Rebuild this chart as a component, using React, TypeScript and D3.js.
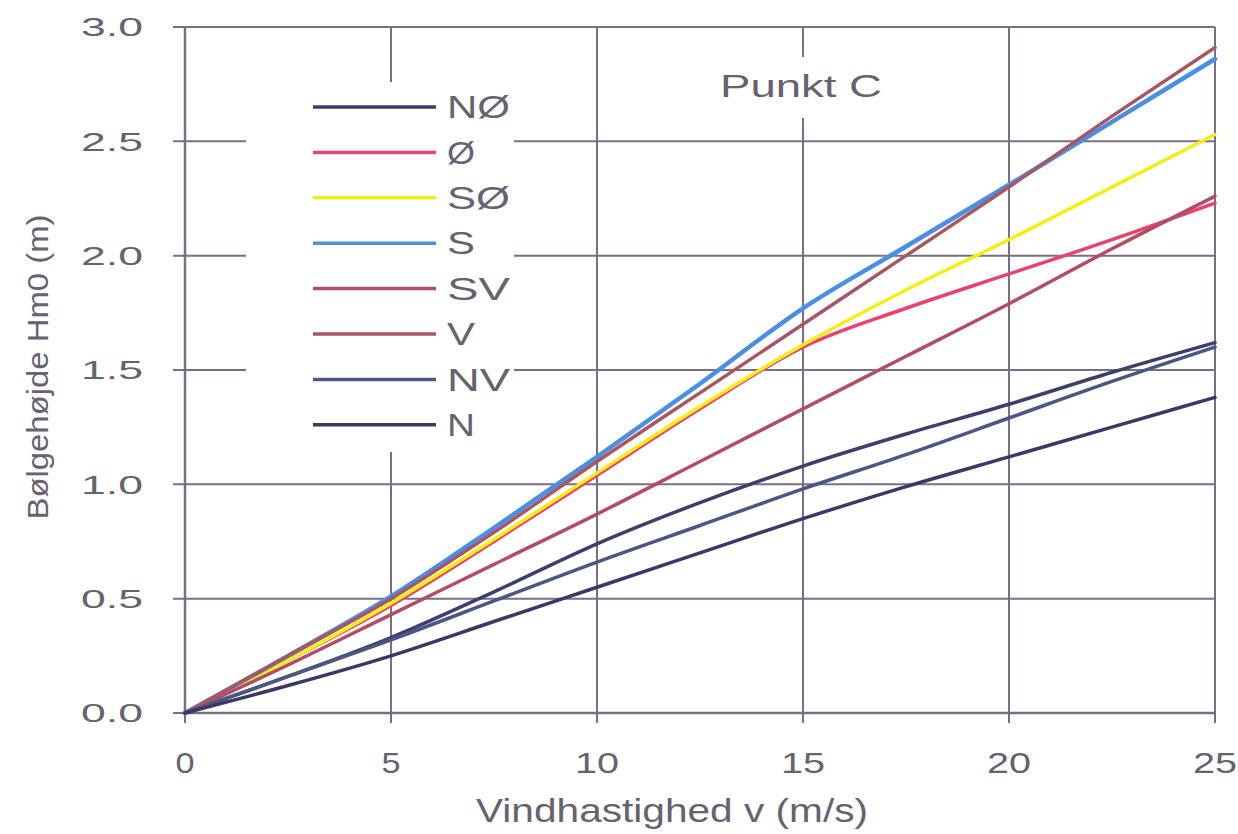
import React from "react";
import * as d3 from "d3";

const windSpeed = [0, 2.5, 5, 7.5, 10, 12.5, 15, 17.5, 20, 22.5, 25];
const seriesNames = ["NØ", "Ø", "SØ", "S", "SV", "V", "NV", "N"];
const seriesColors = ["#3e3d6c", "#e8436d", "#f2ee1c", "#4a8fe2", "#b34d66", "#a85663", "#4b5684", "#3c3866"];
const valNO = [0, 0.16, 0.33, 0.53, 0.74, 0.92, 1.08, 1.22, 1.35, 1.49, 1.62];
const valO = [0, 0.23, 0.47, 0.75, 1.04, 1.33, 1.6, 1.77, 1.92, 2.07, 2.23];
const valSO = [0, 0.23, 0.48, 0.76, 1.05, 1.34, 1.61, 1.85, 2.07, 2.3, 2.53];
const valS = [0, 0.25, 0.51, 0.81, 1.12, 1.44, 1.77, 2.04, 2.31, 2.585, 2.86];
const valSV = [0, 0.21, 0.43, 0.65, 0.87, 1.1, 1.33, 1.56, 1.79, 2.03, 2.26];
const valV = [0, 0.25, 0.5, 0.79, 1.1, 1.4, 1.7, 2.0, 2.3, 2.61, 2.91];
const valNV = [0, 0.16, 0.32, 0.49, 0.66, 0.82, 0.98, 1.13, 1.29, 1.45, 1.6];
const valN = [0, 0.12, 0.25, 0.4, 0.55, 0.7, 0.85, 0.99, 1.12, 1.25, 1.38];
const seriesValues = [valNO, valO, valSO, valS, valSV, valV, valNV, valN];
const xTicks = [0, 5, 10, 15, 20, 25];
const yTicks = [0, 0.5, 1.0, 1.5, 2.0, 2.5, 3.0];
const xTitle = "Vindhastighed v (m/s)";
const yTitle = "Bølgehøjde Hm0 (m)";
const annotation = "Punkt C";

const W = 1238, H = 834;
const L = 185, R = 1215, T = 27, B = 713;
const grid = "#786f86";
const textCol = "#676170";
const font = "'Liberation Sans', Arial, sans-serif";

export default function App() {
  const x = d3.scaleLinear().domain([0, 25]).range([L, R]);
  const y = d3.scaleLinear().domain([0, 3]).range([B, T]);
  const line = d3
    .line<number>()
    .x((_, i) => x(windSpeed[i]))
    .y((d) => y(d))
    .curve(d3.curveMonotoneX);

  const legX1 = 313, legX2 = 436, legTextX = 447, legY0 = 107, legDy = 45.4;

  return (
    <div style={{ position: "absolute", left: 0, top: 0, background: "#fff" }}>
      <svg width={W} height={H} style={{ display: "block" }}>
        <rect x={0} y={0} width={W} height={H} fill="#fff" />
        {yTicks.map((t) => (
          <line key={"gy" + t} x1={L - 12} x2={R} y1={y(t)} y2={y(t)} stroke={grid} strokeWidth={2} />
        ))}
        {xTicks.map((t) => (
          <line key={"gx" + t} x1={x(t)} x2={x(t)} y1={T} y2={B + 10} stroke={grid} strokeWidth={2} />
        ))}
        <rect x={246} y={82} width={268} height={370} fill="#fff" />
        <rect x={700} y={57} width={200} height={61} fill="#fff" />
        <line x1={L} x2={L} y1={T} y2={B} stroke={grid} strokeWidth={2.5} />
        <line x1={L} x2={R} y1={B} y2={B} stroke={grid} strokeWidth={2.5} />
        {seriesValues.map((vals, i) => (
          <path
            key={seriesNames[i]}
            d={line(vals) || ""}
            fill="none"
            stroke={seriesColors[i]}
            strokeWidth={seriesNames[i] === "S" ? 4.5 : 3.5}
            strokeLinejoin="round"
            strokeLinecap="round"
          />
        ))}
        {yTicks.map((t) => (
          <text
            key={"ty" + t}
            x={143}
            y={y(t)}
            dy="0.36em"
            textAnchor="end"
            fontFamily={font}
            fontSize={26}
            fill={textCol}
            textLength={62}
            lengthAdjust="spacingAndGlyphs"
          >
            {t.toFixed(1)}
          </text>
        ))}
        {xTicks.map((t) => (
          <text
            key={"tx" + t}
            x={x(t)}
            y={773}
            textAnchor="middle"
            fontFamily={font}
            fontSize={30}
            fill={textCol}
            textLength={String(t).length === 1 ? 19 : 44}
            lengthAdjust="spacingAndGlyphs"
          >
            {t}
          </text>
        ))}
        <text
          x={672}
          y={822}
          textAnchor="middle"
          fontFamily={font}
          fontSize={33}
          fill={textCol}
          textLength={392}
          lengthAdjust="spacingAndGlyphs"
        >
          {xTitle}
        </text>
        <text
          transform={`translate(48, 367) rotate(-90)`}
          textAnchor="middle"
          fontFamily={font}
          fontSize={29}
          fill={textCol}
          textLength={305}
          lengthAdjust="spacingAndGlyphs"
        >
          {yTitle}
        </text>
        <text
          x={801}
          y={97}
          textAnchor="middle"
          fontFamily={font}
          fontSize={32}
          fill={textCol}
          textLength={162}
          lengthAdjust="spacingAndGlyphs"
        >
          {annotation}
        </text>
        {seriesNames.map((n, i) => (
          <g key={"leg" + n}>
            <line
              x1={legX1}
              x2={legX2}
              y1={legY0 + i * legDy}
              y2={legY0 + i * legDy}
              stroke={seriesColors[i]}
              strokeWidth={3.5}
            />
            <text
              x={legTextX}
              y={legY0 + i * legDy}
              dy="0.36em"
              fontFamily={font}
              fontSize={31}
              fill={textCol}
              textLength={n.length === 1 ? 28 : 63}
              lengthAdjust="spacingAndGlyphs"
            >
              {n}
            </text>
          </g>
        ))}
      </svg>
    </div>
  );
}
